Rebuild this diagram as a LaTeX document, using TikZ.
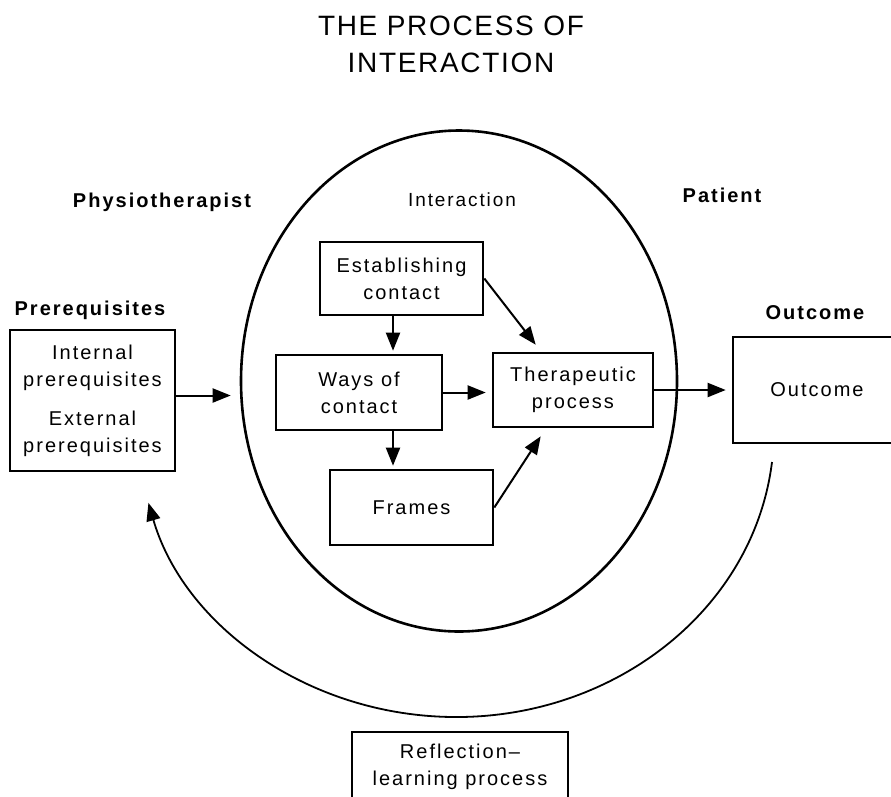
\documentclass[tikz,border=0pt]{standalone}
\usepackage{fontspec}
\setmainfont{Liberation Sans}
\newfontfamily\boxfont[LetterSpace=10]{Liberation Sans}
\newfontfamily\titlefont[LetterSpace=6]{Liberation Sans}
\usetikzlibrary{arrows.meta,shapes.geometric}
\begin{document}
\begin{tikzpicture}[x=1pt,y=-1pt,
  box/.style={draw,line width=2.6pt,align=center,inner sep=0pt,font=\boxfont\fontsize{20}{27}\selectfont},
  head/.style={font=\boxfont\bfseries\fontsize{20}{24}\selectfont},
  arr/.style={-{Triangle[length=18pt,width=14pt]},line width=2pt}]
\useasboundingbox (0,0) rectangle (891,796);
\clip (0,0) rectangle (891,796);
\node[align=center,font=\titlefont\fontsize{28}{37}\selectfont] (title) at (451,44) {THE PROCESS OF\\INTERACTION};
% headings
\node[head] (physio) at (162,202) {Physiotherapist};
\node[font=\boxfont\fontsize{19}{24}\selectfont] (interlbl) at (462,200) {Interaction};
\node[head] (patient) at (722,195) {Patient};
\node[head] (prelbl) at (90,310) {Prerequisites};
\node[head] (outlbl) at (815,313) {Outcome};
% the interaction ellipse
\node[draw,ellipse,line width=2.6pt,minimum width=436pt,minimum height=501pt,inner sep=0pt] (inter) at (459,381) {};
% boxes
\node[box,minimum width=165pt,minimum height=141pt] (pre) at (92.5,400.5) {Internal\\prerequisites\\[12pt]External\\prerequisites};
\node[box,minimum width=163pt,minimum height=73pt] (est) at (401.5,278.5) {Establishing\\contact};
\node[box,minimum width=166pt,minimum height=75pt] (ways) at (359,392.5) {Ways of\\contact};
\node[box,minimum width=160pt,minimum height=74pt] (ther) at (573,390) {Therapeutic\\process};
\node[box,minimum width=163pt,minimum height=75pt] (frames) at (411.5,507.5) {Frames};
\node[box,minimum width=168pt,minimum height=106pt] (outc) at (817,390) {Outcome};
\node[box,minimum width=216pt,minimum height=69pt] (refl) at (460,766.5) {Reflection–\\learning process};
% arrows
\draw[arr,shorten >=9pt] ([yshift=5pt]pre.east) -- ([yshift=5pt]pre.east -| inter.west);
\draw[arr,shorten >=3pt] ([xshift=-8.5pt]est.south) -- ([xshift=-8.5pt]est.south |- ways.north);
\draw[arr,shorten >=3pt] ([xshift=34pt]ways.south) -- ([xshift=34pt]ways.south |- frames.north);
\draw[arr,shorten >=6pt] (ways.east) -- (ways.east -| ther.west);
\draw[arr] (est.east) -- ([xshift=44pt,yshift=7pt]ther.north west);
\draw[arr] (frames.east) -- ([xshift=49pt,yshift=-8pt]ther.south west);
\draw[arr,shorten >=6pt] (ther.east) -- (ther.east -| outc.west);
% reflection loop
\coordinate (loopstart) at (772,462);
\draw[arr,line width=1.8pt] (loopstart) arc[start angle=6.4,end angle=165.3,x radius=318,y radius=287];
\end{tikzpicture}
\end{document}
